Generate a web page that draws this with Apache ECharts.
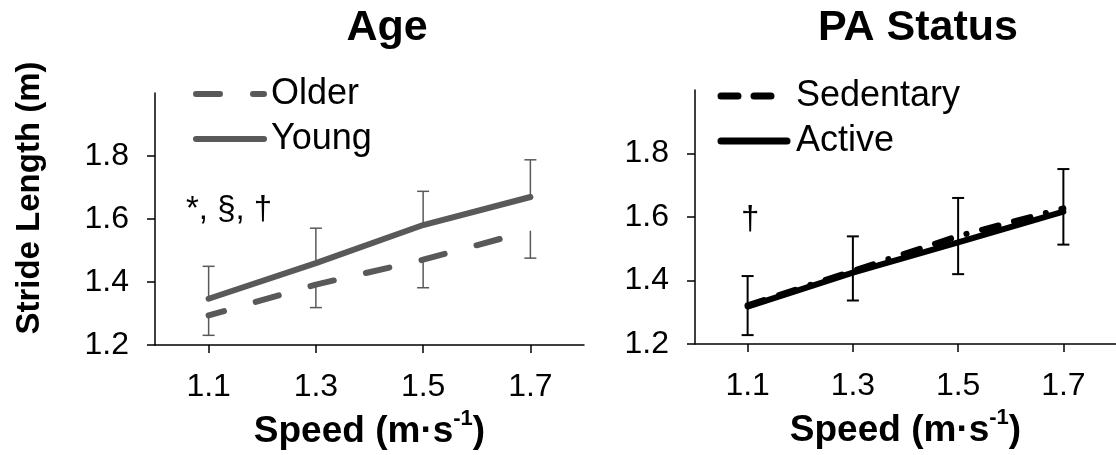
<!DOCTYPE html>
<html>
<head>
<meta charset="utf-8">
<script src="https://cdn.jsdelivr.net/npm/echarts@6/dist/echarts.min.js"></script>
<style>html,body{margin:0;padding:0;background:#fff}#c{width:1116px;height:455px}</style>
</head>
<body>
<div id="c"></div>
<script>
// ---- data ----
const speeds = [1.1, 1.3, 1.5, 1.7];
const xTicks = [1.1, 1.3, 1.5, 1.7];
const yTicks = [1.2, 1.4, 1.6, 1.8];
const olderSL = [1.294, 1.392, 1.471, 1.563];
const youngSL = [1.347, 1.460, 1.581, 1.670];
const youngUpper = [1.450, 1.571, 1.688, 1.788];
const olderLower = [1.231, 1.319, 1.382, 1.476];
const sedentarySL = [1.322, 1.430, 1.540, 1.627];
const activeSL = [1.318, 1.425, 1.520, 1.617];
const paUpper = [1.414, 1.539, 1.660, 1.751];
const paLower = [1.228, 1.337, 1.420, 1.513];

const FONT = 'Liberation Sans, Arial, sans-serif';
const GRAY = '#595959';
const OLDER_DASH = [24, 33];
const SED_DASH = [17, 16, 17, 16, 0.1, 16];

function pairs(ys) { return speeds.map((x, i) => [x, ys[i]]); }
function errData(a, b) { return speeds.map((x, i) => [x, a[i], b[i]]); }

function errRender(color, width, capBoth) {
  return function (params, api) {
    const x = api.value(0);
    const p1 = api.coord([x, api.value(1)]);
    const p2 = api.coord([x, api.value(2)]);
    const h = 6;
    const style = { stroke: color, lineWidth: width };
    const children = [
      { type: 'line', shape: { x1: p1[0], y1: p1[1], x2: p2[0], y2: p2[1] }, style },
      { type: 'line', shape: { x1: p2[0] - h, y1: p2[1], x2: p2[0] + h, y2: p2[1] }, style }
    ];
    if (capBoth) children.push({ type: 'line', shape: { x1: p1[0] - h, y1: p1[1], x2: p1[0] + h, y2: p1[1] }, style });
    return { type: 'group', children };
  };
}

function xAxisCfg(idx) {
  return {
    type: 'value', gridIndex: idx, min: 1.0, max: 1.8,
    name: '{b|Speed (m·s}{s|-1}{b|)}',
    nameLocation: 'middle', nameGap: 60,
    nameTextStyle: {
      rich: {
        b: { fontFamily: FONT, fontWeight: 'bold', fontSize: 37, color: '#000', lineHeight: 42, verticalAlign: 'bottom' },
        s: { fontFamily: FONT, fontWeight: 'bold', fontSize: 22, color: '#000', lineHeight: 42, verticalAlign: 'top' }
      }
    },
    axisLine: { show: true, lineStyle: { color: '#000', width: 1.5 } },
    axisTick: { show: true, length: 8, customValues: xTicks, lineStyle: { color: '#000', width: 1.5 } },
    axisLabel: { customValues: xTicks, margin: 26, fontFamily: FONT, fontSize: 32, color: '#000', formatter: v => v.toFixed(1) },
    splitLine: { show: false }
  };
}
function yAxisCfg(idx) {
  return {
    type: 'value', gridIndex: idx, min: 1.2, max: 2.0,
    axisLine: { show: true, lineStyle: { color: '#000', width: 1.5 } },
    axisTick: { show: true, length: 8, customValues: yTicks, lineStyle: { color: '#000', width: 1.5 } },
    axisLabel: { customValues: yTicks, margin: 26, fontFamily: FONT, fontSize: 32, color: '#000', formatter: v => v.toFixed(1) },
    splitLine: { show: false }
  };
}

function legendLine(x1, x2, y, color, width, dash) {
  return { type: 'line', shape: { x1, y1: y, x2, y2: y }, style: { stroke: color, lineWidth: width, lineCap: 'round', lineDash: dash || null } };
}
function legendText(x, y, text) {
  return { type: 'text', x, y, style: { text, fontFamily: FONT, fontSize: 36, fill: '#000', verticalAlign: 'middle' } };
}

const chart = echarts.init(document.getElementById('c'), null, { renderer: 'canvas' });
chart.setOption({
  animation: false,
  backgroundColor: '#fff',
  title: [
    { text: 'Age', left: 382, top: 2, textAlign: 'center', textStyle: { fontFamily: FONT, fontWeight: 'bold', fontSize: 43, color: '#000' } },
    { text: 'PA Status', left: 913, top: 2, textAlign: 'center', textStyle: { fontFamily: FONT, fontWeight: 'bold', fontSize: 43, color: '#000' } }
  ],
  grid: [
    { left: 155, top: 93, width: 429, height: 253 },
    { left: 695, top: 90, width: 428, height: 254 }
  ],
  xAxis: [xAxisCfg(0), xAxisCfg(1)],
  yAxis: [yAxisCfg(0), yAxisCfg(1)],
  graphic: [
    { type: 'text', x: 30, y: 198, rotation: Math.PI / 2,
      style: { text: 'Stride Length (m)', fontFamily: FONT, fontWeight: 'bold', fontSize: 33, fill: '#000', align: 'center', verticalAlign: 'middle' } },
    { type: 'text', x: 186, y: 210, style: { text: '*, §, †', fontFamily: FONT, fontSize: 33, fill: '#000', verticalAlign: 'middle' } },
    { type: 'text', x: 741, y: 220, style: { text: '†', fontFamily: FONT, fontSize: 33, fill: '#000', verticalAlign: 'middle' } },
    legendLine(196, 264, 94, GRAY, 6, OLDER_DASH),
    legendText(271, 94, 'Older'),
    legendLine(196, 264, 139, GRAY, 6),
    legendText(271, 139, 'Young'),
    legendLine(721, 787, 96, '#000', 7, SED_DASH),
    legendText(796, 96, 'Sedentary'),
    legendLine(721, 787, 141, '#000', 7),
    legendText(796, 141, 'Active')
  ],
  series: [
    { type: 'custom', xAxisIndex: 0, yAxisIndex: 0, data: errData(youngSL, youngUpper), renderItem: errRender(GRAY, 1.5, false), z: 1, silent: true },
    { type: 'custom', xAxisIndex: 0, yAxisIndex: 0, data: errData(olderSL, olderLower), renderItem: errRender(GRAY, 1.5, false), z: 1, silent: true },
    { name: 'Older', type: 'line', xAxisIndex: 0, yAxisIndex: 0, data: pairs(olderSL), symbol: 'none', z: 3,
      lineStyle: { color: GRAY, width: 6, type: OLDER_DASH, dashOffset: 8, cap: 'round' } },
    { name: 'Young', type: 'line', xAxisIndex: 0, yAxisIndex: 0, data: pairs(youngSL), symbol: 'none', z: 3,
      lineStyle: { color: GRAY, width: 6, cap: 'round' } },
    { type: 'custom', xAxisIndex: 1, yAxisIndex: 1, data: errData(paLower, paUpper), renderItem: errRender('#000', 2, true), z: 1, silent: true },
    { name: 'Active', type: 'line', xAxisIndex: 1, yAxisIndex: 1, data: pairs(activeSL), symbol: 'none', z: 3,
      lineStyle: { color: '#000', width: 6, cap: 'round' } },
    { name: 'Sedentary', type: 'line', xAxisIndex: 1, yAxisIndex: 1, data: pairs(sedentarySL), symbol: 'none', z: 4,
      lineStyle: { color: '#000', width: 6, type: SED_DASH, cap: 'round' } }
  ]
});
</script>
</body>
</html>
